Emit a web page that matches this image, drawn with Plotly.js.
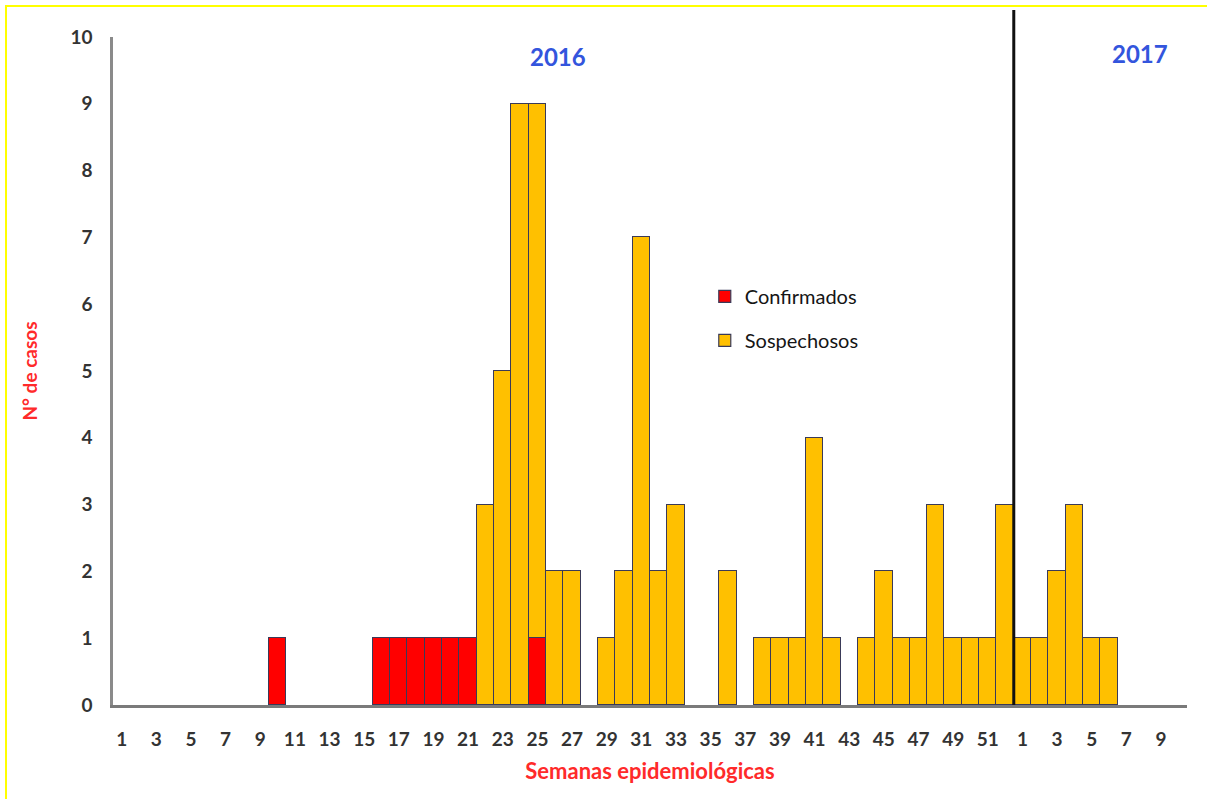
<!DOCTYPE html>
<html>
<head>
<meta charset="utf-8">
<script src="https://cdn.plot.ly/plotly-3.0.1.min.js"></script>
<style>
  html, body { margin: 0; padding: 0; background: #fff; }
  #wrap { position: relative; width: 1207px; height: 799px; }
  #chart { position: absolute; left: 0; top: 0; width: 1207px; height: 799px; }
  #frame { position: absolute; left: 5px; top: 5px; width: 1210px; height: 800px;
           border-top: 2px solid #FFFF00; border-left: 2px solid #FFFF00; pointer-events: none; }
</style>
</head>
<body>
<div id="wrap">
  <div id="chart"></div>
  <div id="frame"></div>
</div>
<script>
// Week labels: 2016 weeks 1..52, then 2017 weeks 1..10
const weeks2016 = ["1","2","3","4","5","6","7","8","9","10","11","12","13","14","15","16","17","18","19","20","21","22","23","24","25","26","27","28","29","30","31","32","33","34","35","36","37","38","39","40","41","42","43","44","45","46","47","48","49","50","51","52"];
const weeks2017 = ["1","2","3","4","5","6","7","8","9","10"];

// Confirmados (red) per week
const confirmados2016 = [0,0,0,0,0,0,0,0,0,1, 0,0,0,0,0,1,1,1,1,1, 1,0,0,0,1,0,0,0,0,0, 0,0,0,0,0,0,0,0,0,0, 0,0,0,0,0,0,0,0,0,0, 0,0];
const confirmados2017 = [0,0,0,0,0,0,0,0,0,0];

// Sospechosos (yellow) per week
const sospechosos2016 = [0,0,0,0,0,0,0,0,0,0, 0,0,0,0,0,0,0,0,0,0, 0,3,5,9,8,2,2,0,1,2, 7,2,3,0,0,2,0,1,1,1, 4,1,0,1,2,1,1,3,1,1, 1,3];
const sospechosos2017 = [1,1,2,3,1,1,0,0,0,0];

const yearLabels = ["2016", "2017"];
const seriesNames = ["Confirmados", "Sospechosos"];
const yTitle = "N° de casos";
const xTitle = "Semanas epidemiológicas";

const weekLabels = weeks2016.concat(weeks2017);
const pos = weekLabels.map((_, i) => i + 1);
const conf = confirmados2016.concat(confirmados2017).map(v => v === 0 ? null : v);
const sosp = sospechosos2016.concat(sospechosos2017).map(v => v === 0 ? null : v);

const tickvals = pos.filter((p, i) => i % 2 === 0 && i <= 60);
const ticktext = tickvals.map(p => weekLabels[p - 1]);
const yearBoundary = weeks2016.length + 0.5;

const outline = { color: '#3a3a58', width: 1.2 };
const FONT = 'Lato, "Open Sans", sans-serif';

const traces = [
  { type: 'bar', name: seriesNames[0], x: pos, y: conf, legendgroup: 'c', width: 0.999,
    marker: { color: '#FF0000', line: outline }, hoverinfo: 'x+y' },
  { type: 'bar', name: seriesNames[1], x: pos, y: sosp, legendgroup: 's', width: 0.999,
    marker: { color: '#FFC000', line: outline }, hoverinfo: 'x+y' }
];

const tickFont = { family: FONT, size: 19, color: '#333333', weight: 'bold' };

const layout = {
  width: 1207, height: 799,
  margin: { l: 113, r: 20, t: 37, b: 94 },
  paper_bgcolor: '#ffffff', plot_bgcolor: '#ffffff',
  barmode: 'stack', bargap: 0,
  showlegend: true,
  legend: {
    x: 0.551, y: 0.641, xanchor: 'left', yanchor: 'top',
    traceorder: 'grouped', tracegroupgap: 15,
    font: { family: FONT, size: 20, color: '#151515' },
    bgcolor: 'rgba(0,0,0,0)'
  },
  xaxis: {
    range: [0.5, 62.5], tickmode: 'array', tickvals: tickvals, ticktext: ticktext,
    showgrid: false, zeroline: false, showline: true, linecolor: '#7a7a7a', linewidth: 2.5,
    ticks: '', ticklabelstandoff: 15, tickfont: tickFont, fixedrange: true,
    title: { text: xTitle, standoff: 16,
             font: { family: FONT, size: 22, color: '#FF2A2A', weight: 'bold' } }
  },
  yaxis: {
    range: [0, 10], dtick: 1, tick0: 0,
    showgrid: false, zeroline: false, showline: true, linecolor: '#8a8a8a', linewidth: 2.5,
    ticks: '', ticklabelstandoff: 14, tickfont: tickFont, fixedrange: true,
    title: { text: yTitle, standoff: 28,
             font: { family: FONT, size: 19, color: '#FF2A2A', weight: 'bold' } }
  },
  shapes: [
    { type: 'line', xref: 'x', yref: 'paper', x0: yearBoundary, x1: yearBoundary, y0: 0, y1: 1.0405,
      line: { color: '#111111', width: 3 } }
  ],
  annotations: [
    { text: yearLabels[0], xref: 'paper', yref: 'paper', x: 0.4145, y: 0.9705,
      xanchor: 'center', yanchor: 'middle', showarrow: false,
      font: { family: FONT, size: 24, color: '#3355DD', weight: 'bold' } },
    { text: yearLabels[1], xref: 'paper', yref: 'paper', x: 0.956, y: 0.975,
      xanchor: 'center', yanchor: 'middle', showarrow: false,
      font: { family: FONT, size: 24, color: '#3355DD', weight: 'bold' } }
  ]
};

Plotly.newPlot('chart', traces, layout, { displayModeBar: false });
</script>
</body>
</html>
